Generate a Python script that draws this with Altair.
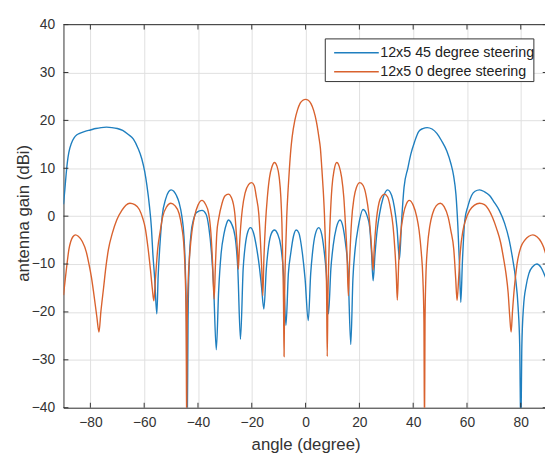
import altair as alt
import pandas as pd

series_names = ["12x5 45 degree steering", "12x5 0 degree steering"]
series_colors = ["#1f7fbf", "#d9622e"]

angle_45 = [-90, -89.5, -89, -88.5, -88, -87, -86, -85, -84, -82,
            -80, -78, -76, -74, -72, -70, -68, -66, -64, -62.3,
            -60.9, -59.8, -59, -58, -57.3, -56.8, -56.1, -55.3, -54.8, -54.2,
            -53.3, -52, -50.9, -50, -49, -48, -47, -46, -45.2, -44.7,
            -44.3, -44.0, -43.7, -43.2, -42.6, -41.6, -40.5, -38.5, -37, -36,
            -35, -34.2, -33.2, -32.3, -31.4, -30.3, -29.4, -28.7, -27.6, -26.2,
            -25.2, -24.2, -23.2, -22.4, -21.5, -20.5, -19.4, -18.3, -17.2, -16.4,
            -15.5, -14.6, -13.8, -12.7, -11.6, -10.4, -9.2, -8.2, -7.3, -6.4,
            -5.5, -4.5, -3.5, -2.5, -1.2, -0.2, 1.0, 1.9, 2.6, 3.6,
            4.9, 6.0, 6.8, 7.7, 8.5, 9.4, 10.3, 11.4, 12.8, 14.0,
            14.8, 15.8, 16.8, 17.6, 18.4, 19.6, 21.4, 22.9, 23.8, 24.5,
            25.1, 25.8, 26.6, 27.5, 28.8, 30.5, 32.0, 33.0, 34.0, 34.9,
            35.7, 36.6, 38.0, 39.1, 40.5, 42.1, 43.6, 45.2, 47.0, 48.8,
            50.5, 52.5, 54.0, 55.0, 55.9, 56.6, 57.2, 57.7, 58.3, 59.2,
            60.3, 61.7, 63.0, 64.7, 66.5, 68.4, 70.0, 72.0, 74.0, 75.7,
            77.0, 78.1, 79.0, 79.6, 80.0, 80.4, 81.0, 82.0, 83.0, 84.5,
            86.0, 87.5, 89.0, 90.0]
gain_45 = [2.5, 5.5, 8.8, 11.5, 13.3, 15.3, 16.4, 17.0, 17.3, 17.7,
           18.0, 18.3, 18.5, 18.6, 18.5, 18.3, 17.9, 17.1, 16.1, 14.2,
           12.0, 9.3, 6.5, 1.9, -2.5, -7.6, -13.0, -20.4, -12.5, -6.5,
           0.0, 3.6, 5.1, 5.5, 5.2, 4.3, 2.8, 0.0, -4.3, -11.0,
           -22.0, -45.0, -22.0, -9.0, -3.8, -0.6, 0.8, 1.2, 0.4, -2.2,
           -7.5, -14.5, -27.9, -15.4, -7.8, -3.6, -1.6, -0.8, -1.5, -4.3,
           -11.0, -25.7, -11.0, -6.0, -3.3, -2.4, -3.4, -6.3, -10.5, -14.6,
           -19.4, -11.0, -6.5, -3.6, -2.9, -3.7, -6.3, -12.0, -22.8, -12.0,
           -7.7, -4.2, -2.9, -3.5, -7.7, -13.0, -21.8, -12.0, -7.5, -3.8,
           -2.4, -3.8, -6.8, -12.0, -20.4, -11.0, -6.0, -2.5, -0.8, -2.5,
           -5.5, -11.5, -26.8, -13.0, -7.0, -2.2, 1.4, 0.0, -2.2, -7.5,
           -13.5, -8.0, -3.0, 0.5, 3.8, 5.5, 4.3, 1.9, -2.5, -9.0,
           -1.0, 6.0, 10.0, 12.9, 15.5, 17.7, 18.3, 18.5, 18.2, 17.3,
           15.8, 13.6, 11.0, 8.5, 4.5, -2.0, -10.0, -18.0, -9.5, -0.8,
           2.0, 4.3, 5.2, 5.5, 5.1, 4.3, 3.0, 1.2, -1.5, -5.0,
           -9.0, -13.2, -19.0, -27.0, -45.0, -27.0, -19.0, -14.5, -12.0, -10.5,
           -10.0, -10.7, -12.5, -14.0]

angle_0 = [-90, -89.5, -89, -88.5, -88, -87.3, -86.5, -85.5, -84.5, -83,
           -81.5, -80.6, -79.6, -78.8, -77.6, -76.8, -76.1, -75.1, -74.2, -73.3,
           -71.8, -70.2, -68.3, -66.8, -65.3, -63.5, -61.8, -60.5, -59.6, -58.6,
           -57.7, -57.0, -56.4, -55.8, -55.0, -54.0, -53.1, -51.6, -50.1, -48.6,
           -47.0, -46.1, -45.2, -44.7, -44.4, -44.2, -44.0, -43.6, -43.0, -42.2,
           -41.3, -40.0, -38.5, -37.3, -36.0, -35.2, -34.6, -34.0, -33.5, -33.0,
           -32.3, -31.1, -30.0, -28.7, -27.5, -26.3, -25.7, -25.3, -25.0, -24.6,
           -24.1, -23.5, -22.5, -21.2, -20.1, -19.1, -18.3, -17.4, -16.8, -16.3,
           -15.9, -15.5, -14.9, -14.2, -13.4, -12.5, -11.6, -10.6, -9.8, -9.2,
           -8.8, -8.5, -8.2, -8.0, -7.8, -7.4, -7.0, -6.5, -6.0, -5.5,
           -5.0, -4.0, -3.0, -2.0, -1.0, 0.0, 1.0, 2.0, 3.0, 4.0,
           5.0, 5.5, 6.0, 6.5, 7.0, 7.4, 7.8, 8.05, 8.3, 8.7,
           9.2, 9.8, 10.6, 11.6, 12.5, 13.4, 14.2, 14.8, 15.4, 15.9,
           16.4, 17.1, 18.0, 18.9, 20.2, 21.4, 22.6, 23.5, 24.2, 24.7,
           25.1, 25.5, 26.2, 27.3, 28.5, 29.3, 30.5, 31.5, 32.5, 33.2,
           33.7, 34.1, 34.6, 35.3, 36.4, 37.5, 38.5, 40.0, 41.3, 42.2,
           43.0, 43.6, 44.0, 44.2, 44.4, 44.7, 45.3, 46.2, 47.2, 48.6,
           50.1, 51.5, 53.0, 54.0, 55.1, 55.8, 56.3, 56.9, 57.5, 58.5,
           59.5, 61.0, 62.8, 64.7, 66.5, 68.0, 69.5, 71.0, 72.5, 73.5,
           74.5, 75.3, 75.9, 76.4, 76.9, 77.6, 78.6, 80.0, 81.5, 83.0,
           84.5, 86.0, 87.5, 88.5, 89.0, 90.0]
gain_0 = [-16.5, -14.0, -11.5, -9.1, -7.0, -5.3, -4.3, -3.9, -4.2, -5.3,
          -7.5, -9.8, -12.8, -15.9, -21.0, -24.2, -20.0, -15.0, -10.5, -7.0,
          -3.5, -0.8, 1.2, 2.3, 2.7, 2.4, 1.4, -0.5, -2.5, -6.5,
          -11.0, -15.0, -17.7, -13.0, -7.0, -3.0, -0.1, 2.0, 2.7, 2.2,
          0.5, -2.0, -6.5, -13.0, -22.0, -45.0, -22.0, -13.0, -7.5, -3.0,
          -0.1, 2.3, 3.3, 2.6, 0.5, -3.5, -9.5, -17.3, -10.0, -3.6,
          -0.5, 2.6, 4.2, 4.6, 3.8, 0.5, -4.0, -7.5, -11.1, -6.5,
          -2.0, 1.5, 4.8, 6.6, 7.0, 6.4, 4.0, 0.5, -5.0, -11.0,
          -16.6, -9.0, -1.5, 4.0, 8.1, 10.3, 11.2, 10.4, 8.1, 4.0,
          -1.5, -9.0, -18.0, -29.3, -17.0, -7.0, 0.0, 5.5, 10.0, 13.8,
          16.5, 20.0, 22.2, 23.6, 24.2, 24.4, 24.2, 23.5, 22.1, 19.8,
          16.3, 14.2, 10.3, 6.0, 0.5, -6.0, -15.0, -29.3, -17.0, -7.5,
          0.0, 6.0, 9.6, 11.2, 10.4, 8.1, 4.0, -1.5, -8.0, -16.6,
          -9.0, -1.0, 3.8, 6.0, 7.0, 6.4, 4.0, 0.5, -4.0, -8.0,
          -11.3, -7.0, -1.5, 2.8, 4.3, 4.6, 4.0, 1.8, -2.0, -7.0,
          -12.0, -17.5, -10.0, -4.0, 0.5, 2.6, 3.3, 2.3, -0.1, -3.0,
          -7.5, -13.0, -22.0, -45.0, -22.0, -13.0, -6.5, -2.0, 0.5, 2.2,
          2.7, 2.0, -0.2, -3.0, -7.0, -13.0, -17.6, -13.0, -7.5, -3.0,
          -0.8, 1.2, 2.3, 2.7, 2.4, 1.4, -0.3, -2.6, -5.5, -8.5,
          -12.0, -16.0, -21.0, -24.2, -20.0, -15.0, -10.0, -6.5, -5.0, -4.2,
          -3.9, -4.3, -5.3, -6.5, -7.4, -9.0]

x_ticks = [-80, -60, -40, -20, 0, 20, 40, 60, 80]
y_ticks = [-40, -30, -20, -10, 0, 10, 20, 30, 40]

assert len(angle_45) == len(gain_45)
assert len(angle_0) == len(gain_0)

W, H = 488.7, 388.8
FONT = "Liberation Sans"
AX = "#333333"

df45 = pd.DataFrame({"angle": angle_45, "gain": gain_45, "series": series_names[0]})
df0 = pd.DataFrame({"angle": angle_0, "gain": gain_0, "series": series_names[1]})

x_scale = alt.Scale(domain=[-90, 89], nice=False, zero=False)
y_scale = alt.Scale(domain=[-40, 40], nice=False, zero=False)

x_axis = alt.Axis(values=x_ticks, title="angle (degree)", grid=True, ticks=False, tickSize=0,
                  labelPadding=8, domainColor=AX, labelColor=AX, labelFontSize=14, labelFont=FONT,
                  titleFont=FONT, titleFontSize=17, titleFontWeight="normal", titleColor=AX,
                  titleBaseline="alphabetic", titleY=42.7, titleX=245.7,
                  gridColor="#e0e0e0", labelFlush=False)
y_axis = alt.Axis(values=y_ticks, title="antenna gain (dBi)", grid=True, ticks=False, tickSize=0,
                  labelPadding=9, domainColor=AX, labelColor=AX, labelFontSize=14, labelFont=FONT,
                  titleFont=FONT, titleFontSize=17, titleFontWeight="normal", titleColor=AX,
                  titleBaseline="middle", titleX=-40.3, titleY=191,
                  gridColor="#e0e0e0", labelFlush=False)

X = alt.X("angle:Q", scale=x_scale, axis=x_axis)
Y = alt.Y("gain:Q", scale=y_scale, axis=y_axis)

line45 = alt.Chart(df45).mark_line(clip=True, strokeWidth=1.4, color=series_colors[0],
                                   interpolate="monotone").encode(x=X, y=Y)
line0 = alt.Chart(df0).mark_line(clip=True, strokeWidth=1.4, color=series_colors[1],
                                 interpolate="monotone").encode(x=X, y=Y)

one = pd.DataFrame({"k": [0]})
top_border = alt.Chart(one).mark_rule(color=AX, strokeWidth=1).encode(
    x=alt.value(0), x2=alt.value(W + 5), y=alt.value(0))

xt = pd.DataFrame({"angle": x_ticks})
yt = pd.DataFrame({"gain": y_ticks})
ticks_bottom = alt.Chart(xt).mark_rule(color=AX).encode(
    x=X, y=alt.value(H), y2=alt.value(H - 5))
ticks_top = alt.Chart(xt).mark_rule(color=AX).encode(
    x=X, y=alt.value(0), y2=alt.value(5))
ticks_left = alt.Chart(yt).mark_rule(color=AX).encode(
    y=Y, x=alt.value(0), x2=alt.value(5))
ticks_right = alt.Chart(yt).mark_rule(color=AX).encode(
    y=Y, x=alt.value(486.4), x2=alt.value(491.4))

# legend
leg_df = pd.DataFrame({"series": series_names})
legend_box = alt.Chart(one).mark_rect(fill="white", stroke=AX, strokeWidth=1).encode(
    x=alt.value(265.7), x2=alt.value(477.4), y=alt.value(14.5), y2=alt.value(57.8))
legend_layers = [legend_box]
row_y = [28.5, 47.8]
for i, name in enumerate(series_names):
    d = leg_df[leg_df["series"] == name]
    legend_layers.append(
        alt.Chart(d).mark_rule(color=series_colors[i], strokeWidth=1.4).encode(
            x=alt.value(274.7), x2=alt.value(320.0), y=alt.value(row_y[i])))
    legend_layers.append(
        alt.Chart(d).mark_text(align="left", baseline="middle", font=FONT, fontSize=14.5,
                               color="#222222").encode(
            x=alt.value(321.5), y=alt.value(row_y[i] + 0.6), text="series:N"))

chart = alt.layer(line45, line0, top_border, ticks_bottom, ticks_top, ticks_left, ticks_right,
                  *legend_layers).properties(
    width=W, height=H,
    padding={"left": 56.3, "top": 13.5, "right": 0, "bottom": 48.7},
    autosize=alt.AutoSizeParams(type="none"),
    background="white",
).configure_view(stroke="transparent")

chart.save("out.html", embed_options={"renderer": "svg", "actions": False})
